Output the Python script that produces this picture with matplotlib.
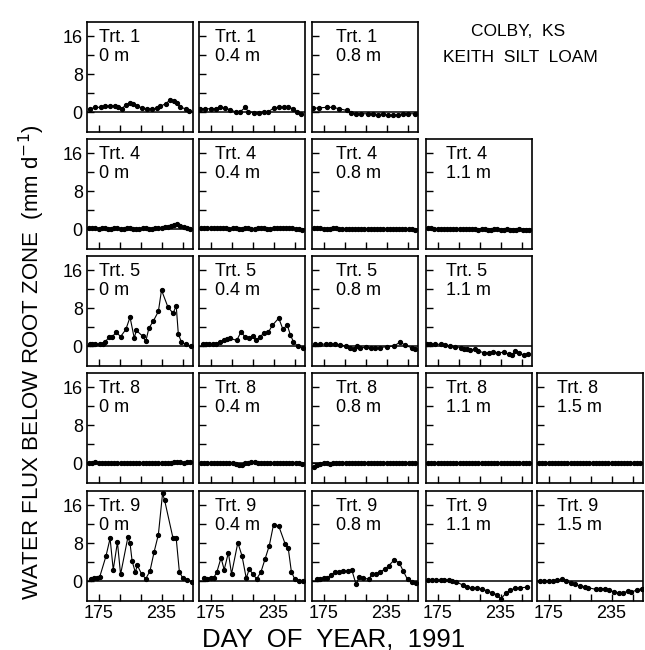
import matplotlib
matplotlib.use("Agg")
import matplotlib.pyplot as plt

plt.rcParams["font.family"] = ["Liberation Sans", "DejaVu Sans"]

# ---- data (day of year, water flux mm/d) ----
DAYS = [166, 169, 172, 175, 178, 181, 184, 187, 190, 193, 196, 199, 202, 205, 208, 211, 214,
        217, 220, 223, 226, 229, 232, 235, 238, 241, 244, 247, 250, 253, 256, 259, 262]

d1_00 = [167, 172, 177, 181, 186, 191, 194, 197, 201, 205, 208, 212, 216, 221, 226, 231, 234, 239, 243, 247, 250, 253, 258, 261]
v1_00 = [0.7, 1.0, 1.0, 1.2, 1.3, 1.3, 1.1, 0.7, 1.5, 1.9, 1.7, 1.3, 0.9, 0.7, 0.7, 0.8, 1.2, 1.8, 2.5, 2.3, 2.0, 1.0, 0.7, 0.3]
d1_04 = [165, 170, 175, 180, 184, 189, 194, 199, 203, 208, 211, 216, 221, 226, 230, 235, 240, 245, 249, 254, 257, 261]
v1_04 = [0.7, 0.7, 0.7, 0.7, 1.0, 0.8, 0.5, 0.0, 0.0, 1.0, 0.1, -0.1, -0.1, 0.0, 0.1, 0.8, 1.0, 1.0, 1.0, 0.7, 0.0, -0.3]
d1_08 = [165, 171, 178, 184, 190, 197, 201, 206, 211, 217, 222, 227, 232, 236, 241, 246, 251, 255, 262]
v1_08 = [0.8, 0.9, 1.0, 1.0, 0.7, 0.35, -0.1, -0.35, -0.35, -0.35, -0.35, -0.55, -0.35, -0.7, -0.7, -0.55, -0.35, -0.35, -0.35]

v4_00 = [0.2, 0.2, 0.2, 0.1, 0.2, 0.2, 0.1, 0.1, 0.2, 0.2, 0.1, 0.1, 0.2, 0.2, 0.1, 0.1, 0.1,
         0.2, 0.2, 0.1, 0.1, 0.2, 0.2, 0.3, 0.4, 0.5, 0.6, 0.9, 1.0, 0.7, 0.4, 0.2, 0.1]
v4_04 = [0.3, 0.3, 0.2, 0.2, 0.2, 0.3, 0.3, 0.2, 0.2, 0.1, 0.2, 0.2, 0.1, 0.1, 0.2, 0.2, 0.1,
         0.1, 0.2, 0.2, 0.2, 0.1, 0.1, 0.2, 0.3, 0.3, 0.2, 0.2, 0.3, 0.2, 0.1, 0.0, -0.1]
v4_08 = [0.2, 0.2, 0.2, 0.1, 0.1, 0.1, 0.2, 0.2, 0.1, 0.1, 0.0, 0.1, 0.1, 0.1, 0.0, 0.0, 0.1,
         0.1, 0.1, 0.0, 0.0, 0.1, 0.1, 0.1, 0.1, 0.0, 0.0, 0.1, 0.1, 0.0, 0.0, 0.0, -0.1]
v4_11 = [0.2, 0.2, 0.1, 0.1, 0.1, 0.1, 0.0, 0.0, 0.1, 0.1, 0.0, 0.0, 0.0, 0.1, 0.0, 0.0, -0.1,
         0.0, 0.0, -0.1, -0.1, 0.0, 0.0, -0.1, -0.1, 0.0, -0.1, -0.1, -0.1, 0.0, -0.1, -0.1, -0.2]

d5_00 = [167, 169, 172, 176, 179, 181, 185, 188, 192, 196, 201, 205, 209, 211, 217, 220, 223, 227, 232, 235, 241, 246, 249, 251, 254, 258, 263]
v5_00 = [0.4, 0.4, 0.4, 0.4, 0.5, 0.8, 1.9, 2.0, 2.9, 2.0, 3.5, 6.1, 1.7, 3.3, 2.1, 1.0, 3.8, 5.2, 7.3, 11.8, 8.3, 6.9, 8.5, 2.6, 0.8, 0.35, 0.0]
d5_04 = [168, 171, 174, 177, 180, 184, 188, 191, 194, 200, 204, 208, 212, 215, 218, 222, 226, 230, 234, 240, 244, 248, 251, 254, 258, 263]
v5_04 = [0.5, 0.5, 0.5, 0.5, 0.5, 0.9, 1.2, 1.5, 1.6, 1.2, 3.0, 1.9, 1.7, 2.2, 1.25, 1.9, 2.8, 2.9, 4.4, 5.9, 3.5, 4.5, 2.4, 0.9, 0.0, -0.35]
d5_08 = [167, 172, 177, 181, 186, 191, 196, 200, 204, 207, 210, 215, 220, 224, 229, 235, 242, 248, 253, 259, 262]
v5_08 = [0.35, 0.4, 0.4, 0.5, 0.4, 0.3, 0.0, -0.4, -0.55, 0.0, -0.5, -0.2, -0.4, -0.5, -0.3, -0.15, 0.0, 0.85, 0.15, -0.35, -0.7]
d5_11 = [165, 168, 173, 178, 182, 187, 192, 197, 200, 203, 206, 211, 214, 219, 224, 228, 233, 238, 243, 246, 249, 253, 257, 261]
v5_11 = [0.5, 0.5, 0.4, 0.35, 0.3, 0.0, -0.15, -0.3, -0.7, -0.55, -0.85, -0.7, -1.05, -1.4, -1.4, -1.3, -1.4, -1.3, -1.75, -1.9, -1.05, -1.5, -1.9, -1.6]

v8_00 = [0.1, 0.1, 0.2, 0.1, 0.1, 0.1, 0.0, 0.1, 0.1, 0.1, 0.0, 0.1, 0.1, 0.1, 0.1, 0.0, 0.1,
         0.1, 0.1, 0.0, 0.1, 0.1, 0.0, 0.1, 0.1, 0.1, 0.1, 0.2, 0.2, 0.2, 0.1, 0.2, 0.3]
v8_04 = [0.1, 0.0, 0.0, 0.0, 0.1, 0.1, 0.1, 0.0, 0.0, 0.1, 0.0, -0.2, -0.4, -0.5, 0.0, 0.1, 0.2,
         0.2, 0.1, 0.1, 0.1, 0.1, 0.1, 0.0, 0.1, 0.1, 0.1, 0.1, 0.0, 0.1, 0.1, 0.0, -0.1]
v8_08 = [-0.8, -0.3, -0.1, 0.0, 0.0, -0.1, 0.0, 0.0, 0.1, 0.0, 0.0, 0.0, 0.1, 0.0, 0.0, 0.1, 0.0,
         0.0, 0.0, 0.1, 0.0, 0.0, 0.1, 0.0, 0.0, 0.0, 0.1, 0.0, 0.0, 0.0, 0.0, 0.1, 0.0]
v8_11 = [0.1, 0.1, 0.0, 0.0, 0.1, 0.0, 0.0, 0.1, 0.0, 0.0, 0.0, 0.1, 0.0, 0.0, 0.0, 0.0, 0.1,
         0.0, 0.0, 0.0, 0.1, 0.0, 0.0, 0.0, 0.0, 0.1, 0.0, 0.0, 0.0, 0.1, 0.0, 0.0, 0.0]
v8_15 = [0.1, 0.0, 0.0, 0.1, 0.0, 0.0, 0.0, 0.1, 0.0, 0.0, 0.1, 0.0, 0.0, 0.0, 0.1, 0.0, 0.0,
         0.0, 0.1, 0.0, 0.0, 0.0, 0.1, 0.0, 0.0, 0.0, 0.0, 0.1, 0.0, 0.0, 0.0, 0.1, 0.0]

d9_00 = [168, 171, 174, 176, 182, 186, 189, 193, 196, 203, 205, 207, 210, 212, 216, 220, 224, 228, 232, 236, 238, 246, 249, 252, 255, 259, 264]
v9_00 = [0.5, 0.6, 0.7, 0.8, 5.2, 9.0, 2.4, 8.2, 1.4, 9.3, 8.0, 4.2, 1.9, 3.3, 1.5, 0.5, 2.1, 6.2, 9.8, 18.5, 17.0, 9.0, 9.0, 2.0, 0.7, 0.3, -0.2]
d9_04 = [169, 172, 175, 178, 181, 185, 188, 192, 195, 201, 205, 209, 212, 215, 219, 223, 227, 231, 235, 240, 246, 249, 252, 255, 259, 263]
v9_04 = [0.6, 0.5, 0.7, 0.7, 1.9, 4.9, 2.4, 6.0, 1.5, 8.1, 5.3, 0.6, 2.6, 1.5, 0.5, 1.9, 4.7, 7.5, 11.9, 11.6, 7.9, 7.0, 2.0, 0.5, 0.1, 0.1]
d9_08 = [169, 172, 175, 178, 182, 186, 190, 194, 198, 202, 206, 209, 213, 218, 221, 225, 229, 234, 237, 242, 247, 251, 255, 259, 263]
v9_08 = [0.35, 0.5, 0.55, 0.6, 1.2, 1.9, 2.0, 2.2, 2.1, 2.3, -0.7, 0.9, 0.7, 0.35, 1.4, 1.6, 1.9, 2.6, 3.2, 4.4, 3.9, 2.1, 0.35, -0.2, -0.35]
d9_11 = [166, 170, 174, 178, 181, 186, 189, 193, 199, 203, 208, 213, 217, 222, 227, 232, 235, 240, 244, 249, 254, 260]
v9_11 = [0.2, 0.2, 0.2, 0.2, 0.2, 0.2, 0.0, -0.15, -0.85, -1.3, -1.5, -1.4, -1.75, -2.0, -2.5, -2.9, -3.8, -2.6, -1.9, -1.5, -1.4, -1.3]
d9_15 = [167, 171, 175, 179, 183, 188, 192, 196, 200, 205, 210, 213, 220, 224, 229, 233, 237, 242, 246, 251, 254, 259, 264]
v9_15 = [0.0, 0.0, 0.0, 0.0, 0.15, 0.35, 0.0, -0.35, -0.7, -1.05, -1.2, -1.4, -1.75, -1.6, -1.6, -1.9, -2.25, -2.5, -2.5, -2.1, -2.3, -1.9, -1.6]

# (row, col, treatment, depth label, days, values)
PANELS = [
    (0, 0, "1", "0 m", d1_00, v1_00),
    (0, 1, "1", "0.4 m", d1_04, v1_04),
    (0, 2, "1", "0.8 m", d1_08, v1_08),
    (1, 0, "4", "0 m", DAYS, v4_00),
    (1, 1, "4", "0.4 m", DAYS, v4_04),
    (1, 2, "4", "0.8 m", DAYS, v4_08),
    (1, 3, "4", "1.1 m", DAYS, v4_11),
    (2, 0, "5", "0 m", d5_00, v5_00),
    (2, 1, "5", "0.4 m", d5_04, v5_04),
    (2, 2, "5", "0.8 m", d5_08, v5_08),
    (2, 3, "5", "1.1 m", d5_11, v5_11),
    (3, 0, "8", "0 m", DAYS, v8_00),
    (3, 1, "8", "0.4 m", DAYS, v8_04),
    (3, 2, "8", "0.8 m", DAYS, v8_08),
    (3, 3, "8", "1.1 m", DAYS, v8_11),
    (3, 4, "8", "1.5 m", DAYS, v8_15),
    (4, 0, "9", "0 m", d9_00, v9_00),
    (4, 1, "9", "0.4 m", d9_04, v9_04),
    (4, 2, "9", "0.8 m", d9_08, v9_08),
    (4, 3, "9", "1.1 m", d9_11, v9_11),
    (4, 4, "9", "1.5 m", d9_15, v9_15),
]

# ---- layout in pixels ----
W, H = 645, 650
COL_X = [87, 199, 312, 426, 537]
ROW_Y = [22, 139, 256, 373, 491]
PW, PH = 106, 110
TXT_DX = [12, 16, 24, 20, 20]

fig = plt.figure(figsize=(W / 100, H / 100), dpi=100)

for r, c, trt, depth, dd, vv in PANELS:
    ax = fig.add_axes([COL_X[c] / W, 1 - (ROW_Y[r] + PH) / H, PW / W, PH / H])
    ax.plot(dd, vv, "-", color="black", lw=0.8, marker="o", ms=2.8, mec="black", mfc="black")
    ax.axhline(0, color="black", lw=1.1)
    ax.set_xlim(164, 265)
    ax.set_ylim(-4.2, 19)
    ax.set_yticks([0, 4, 8, 12, 16])
    ax.set_xticks([175, 195, 215, 235, 255])
    ax.tick_params(direction="in", length=5, width=1, labelsize=13, pad=3)
    ax.set_yticklabels(["0", "", "8", "", "16"] if c == 0 else [])
    ax.set_xticklabels(["175", "", "", "235", ""] if r == 4 else [])
    for s in ax.spines.values():
        s.set_linewidth(1.2)
    ax.text(TXT_DX[c] / PW, 1 - 7 / PH, f"Trt. {trt}\n{depth}", transform=ax.transAxes,
            ha="left", va="top", fontsize=13, linespacing=1.15)

fig.text(518 / W, 1 - 32 / H, "COLBY,  KS", ha="center", va="center", fontsize=12.5)
fig.text(520 / W, 1 - 58 / H, "KEITH  SILT  LOAM", ha="center", va="center", fontsize=12.5)
fig.text(334 / W, 1 - 639 / H, "DAY  OF  YEAR,  1991", ha="center", va="center", fontsize=18.5)
fig.text(32 / W, 1 - 362 / H, "WATER FLUX BELOW ROOT ZONE  (mm d$^{-1}$)", rotation=90,
         ha="center", va="center", fontsize=16)

fig.savefig("out.png", dpi=100)
